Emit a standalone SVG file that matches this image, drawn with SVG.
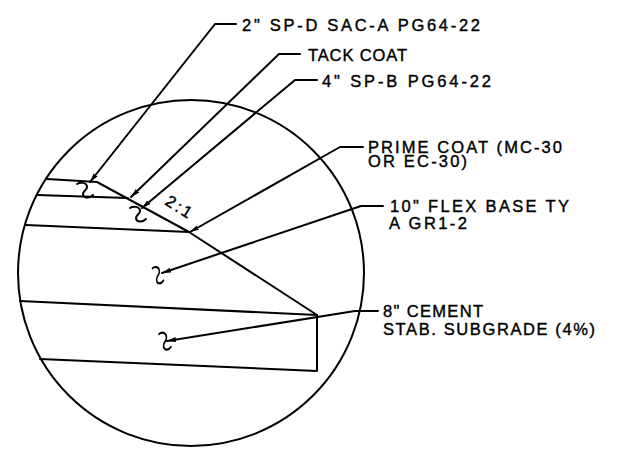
<svg xmlns="http://www.w3.org/2000/svg" width="622" height="456" viewBox="0 0 622 456">
<style>
.l{fill:none;stroke:#000;stroke-width:2;stroke-linejoin:round;stroke-linecap:round}
.a{marker-end:url(#arr)}
text{font-family:"Liberation Sans",Arial,sans-serif;font-size:16.500px;fill:#000;stroke:#000;stroke-width:.4}
</style>
<defs>
<marker id="arr" markerUnits="userSpaceOnUse" markerWidth="12" markerHeight="8" refX="9" refY="2.500" orient="auto">
<path d="M0,0 L9,2.500 L0,5 Z" fill="#000"/>
</marker>
<path id="brk" class="l" d="M-8,-6 C-5,-8 2,-8 2,-3 C2,0 -2,1 -2,4 C-2,8 4,9 8,5"/>
</defs>
<rect width="622" height="456" fill="#fff"/>
<g id="section">
<circle class="l" cx="191" cy="273" r="173"/>
<path class="l" d="M47,179 L97,182 L189,232 L317,315 L317,371 L40,359"/>
<path class="l" d="M37,195 L128,198"/>
<path class="l" d="M26,225 L189,232"/>
<path class="l" d="M20,301 L317,315"/>
<use href="#brk" transform="translate(85,190)"/>
<use href="#brk" transform="translate(138,214)"/>
<use href="#brk" transform="translate(158,275) scale(.7,1.100)"/>
<use href="#brk" transform="translate(165,341) scale(.75,1.150)"/>
<text transform="translate(164,204) rotate(32)" textLength="28" lengthAdjust="spacing">2:1</text>
</g>
<g id="connectors">
<path class="l a" d="M236,24 L215,24 L90,182"/>
<path class="l a" d="M300,54 L279,54 L131,197"/>
<path class="l a" d="M317,80 L295,80 L142,208"/>
<path class="l a" d="M363,147 L340,147 L190,232"/>
<path class="l a" d="M383,206 L361,206 L162,273"/>
<path class="l a" d="M378,311 L355,311 L167,341"/>
</g>
<g id="n1"><text x="242" y="31" textLength="238" lengthAdjust="spacing">2" SP-D SAC-A PG64-22</text></g>
<g id="n2"><text x="308" y="61" textLength="99" lengthAdjust="spacing">TACK COAT</text></g>
<g id="n3"><text x="322" y="87" textLength="169" lengthAdjust="spacing">4" SP-B PG64-22</text></g>
<g id="n4"><text x="368" y="153" textLength="194" lengthAdjust="spacing">PRIME COAT (MC-30</text><text x="368" y="167" textLength="99" lengthAdjust="spacing">OR EC-30)</text></g>
<g id="n5"><text x="390" y="212" textLength="179" lengthAdjust="spacing">10" FLEX BASE TY</text><text x="389" y="229" textLength="78" lengthAdjust="spacing">A GR1-2</text></g>
<g id="n6"><text x="383" y="317" textLength="100" lengthAdjust="spacing">8" CEMENT</text><text x="383" y="335" textLength="212" lengthAdjust="spacing">STAB. SUBGRADE (4%)</text></g>
</svg>
